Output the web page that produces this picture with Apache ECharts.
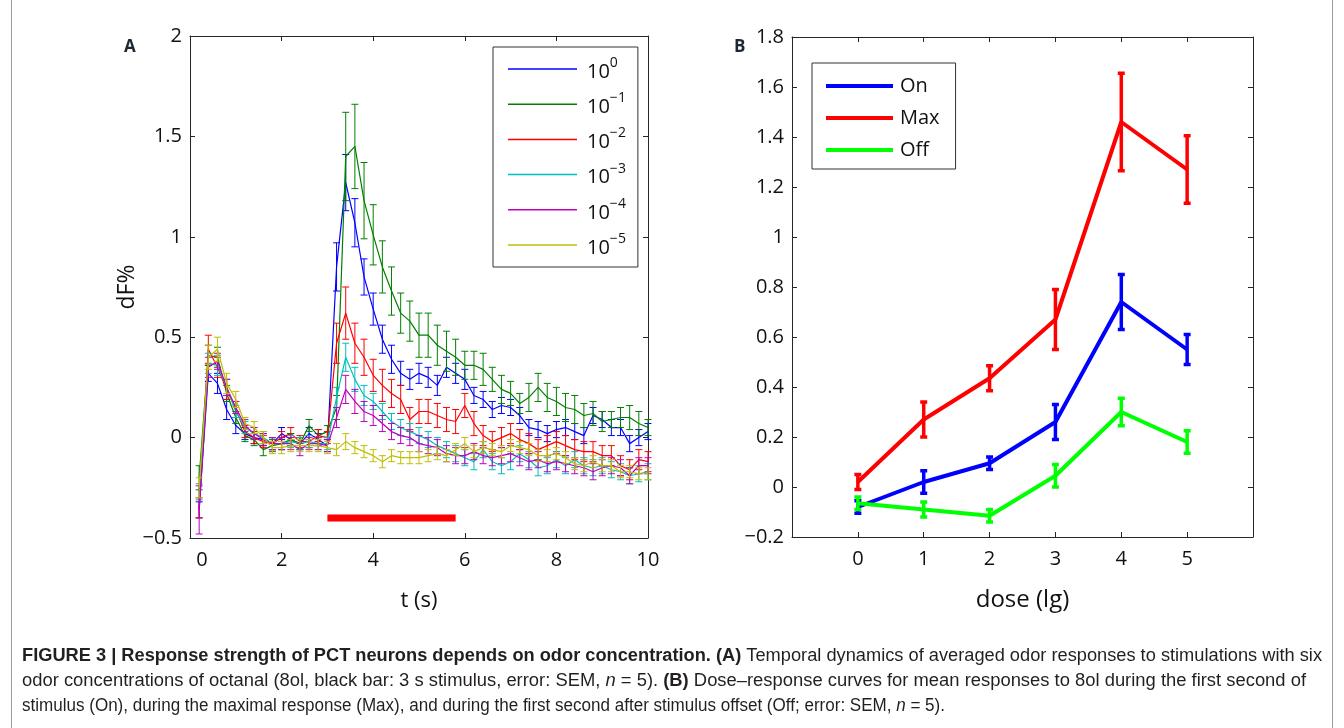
<!DOCTYPE html>
<html>
<head>
<meta charset="utf-8">
<script src="https://cdn.jsdelivr.net/npm/echarts@6/dist/echarts.min.js"></script>
<style>
html,body{margin:0;padding:0;background:#fff;}
#chart{width:1344px;height:728px;}
</style>
</head>
<body>
<div id="chart"></div>
<script>
// ---------- Panel A data ----------
const tA = [0.2,0.4,0.6,0.8,1.0,1.2,1.4,1.6,1.8,2.0,2.2,2.4,2.6,2.8,3.0,3.2,3.4,3.6,3.8,4.0,4.2,4.4,4.6,4.8,5.0,5.2,5.4,5.6,5.8,6.0,6.2,6.4,6.6,6.8,7.0,7.2,7.4,7.6,7.8,8.0,8.2,8.4,8.6,8.8,9.0,9.2,9.4,9.6,9.8,10.0];
const conc0 = [-0.36,0.32,0.27,0.14,0.06,0.02,0.00,-0.01,-0.03,0.02,-0.01,-0.03,0.02,-0.01,-0.04,0.85,1.27,1.07,0.80,0.64,0.49,0.39,0.32,0.29,0.32,0.30,0.26,0.35,0.32,0.29,0.21,0.19,0.14,0.16,0.15,0.11,0.05,0.04,0.02,0.04,0.05,0.03,0.01,0.11,0.09,0.05,0.05,-0.03,0.00,0.03];
const conc0Err = [0.04,0.04,0.05,0.05,0.04,0.03,0.03,0.03,0.03,0.03,0.03,0.03,0.03,0.03,0.03,0.12,0.14,0.12,0.09,0.08,0.07,0.07,0.06,0.05,0.05,0.05,0.05,0.05,0.05,0.05,0.04,0.04,0.04,0.04,0.04,0.04,0.04,0.04,0.04,0.04,0.04,0.04,0.04,0.04,0.04,0.04,0.04,0.04,0.04,0.04];
const conc1 = [-0.20,0.41,0.40,0.22,0.10,0.01,-0.01,-0.06,-0.04,-0.03,-0.01,-0.03,0.06,0.01,0.03,0.15,1.40,1.45,1.18,1.01,0.85,0.73,0.62,0.58,0.51,0.51,0.46,0.43,0.40,0.36,0.36,0.34,0.29,0.24,0.22,0.17,0.20,0.25,0.20,0.18,0.15,0.14,0.11,0.12,0.08,0.09,0.10,0.10,0.07,0.05];
const conc1Err = [0.06,0.05,0.05,0.04,0.03,0.03,0.03,0.03,0.03,0.03,0.03,0.03,0.03,0.03,0.03,0.06,0.22,0.21,0.19,0.15,0.13,0.12,0.10,0.10,0.11,0.11,0.10,0.10,0.09,0.07,0.07,0.08,0.06,0.07,0.06,0.05,0.07,0.07,0.07,0.07,0.07,0.07,0.06,0.06,0.05,0.04,0.05,0.06,0.06,0.04];
const conc2 = [-0.35,0.44,0.35,0.24,0.14,0.03,0.00,-0.02,-0.03,0.00,0.02,-0.02,-0.02,0.01,0.00,0.47,0.62,0.47,0.40,0.31,0.26,0.22,0.19,0.09,0.13,0.13,0.11,0.09,0.08,0.16,0.07,0.01,-0.02,0.00,0.02,-0.01,-0.03,-0.06,-0.04,-0.02,-0.04,-0.06,-0.07,-0.07,-0.09,-0.09,-0.14,-0.16,-0.11,-0.12];
const conc2Err = [0.05,0.07,0.05,0.05,0.04,0.03,0.03,0.03,0.03,0.03,0.03,0.03,0.03,0.03,0.03,0.10,0.13,0.10,0.09,0.08,0.08,0.07,0.07,0.06,0.06,0.06,0.06,0.06,0.06,0.06,0.06,0.05,0.05,0.05,0.05,0.05,0.05,0.05,0.05,0.05,0.05,0.05,0.05,0.05,0.05,0.05,0.05,0.05,0.05,0.05];
const conc3 = [-0.27,0.37,0.36,0.25,0.13,0.05,0.02,0.00,-0.03,-0.03,-0.02,-0.03,-0.02,-0.03,-0.03,0.20,0.40,0.29,0.21,0.18,0.13,0.08,0.05,0.03,0.01,-0.01,-0.04,-0.06,-0.08,-0.10,-0.12,-0.06,-0.12,-0.14,-0.12,-0.08,-0.11,-0.15,-0.14,-0.11,-0.14,-0.11,-0.14,-0.15,-0.14,-0.16,-0.17,-0.19,-0.18,-0.17];
const conc3Err = [0.04,0.05,0.05,0.04,0.03,0.03,0.03,0.03,0.03,0.03,0.03,0.03,0.03,0.03,0.03,0.05,0.07,0.06,0.05,0.04,0.04,0.04,0.04,0.04,0.04,0.04,0.04,0.04,0.04,0.04,0.04,0.04,0.04,0.04,0.04,0.04,0.04,0.04,0.04,0.04,0.04,0.04,0.04,0.04,0.04,0.04,0.04,0.04,0.04,0.04];
const conc4 = [-0.36,0.35,0.38,0.25,0.15,0.06,0.02,-0.01,-0.03,-0.03,-0.03,-0.06,-0.03,-0.03,-0.04,0.10,0.24,0.18,0.13,0.11,0.07,0.03,0.01,0.00,-0.03,-0.04,-0.05,-0.08,-0.09,-0.09,-0.07,-0.09,-0.10,-0.09,-0.08,-0.10,-0.12,-0.11,-0.13,-0.12,-0.13,-0.14,-0.15,-0.17,-0.15,-0.14,-0.15,-0.19,-0.14,-0.14];
const conc4Err = [0.12,0.05,0.04,0.04,0.03,0.03,0.03,0.03,0.03,0.03,0.03,0.03,0.03,0.03,0.03,0.05,0.07,0.06,0.05,0.05,0.04,0.04,0.04,0.04,0.04,0.04,0.04,0.04,0.04,0.04,0.04,0.04,0.04,0.04,0.04,0.04,0.04,0.04,0.04,0.04,0.04,0.04,0.04,0.04,0.04,0.04,0.04,0.04,0.04,0.04];
const conc5 = [-0.25,0.40,0.44,0.27,0.19,0.07,0.05,0.00,-0.05,-0.05,-0.04,-0.04,-0.04,-0.04,-0.05,-0.06,-0.02,-0.05,-0.07,-0.09,-0.12,-0.09,-0.10,-0.10,-0.10,-0.09,-0.08,-0.09,-0.06,-0.03,-0.07,-0.05,-0.06,-0.07,-0.04,-0.05,-0.06,-0.09,-0.09,-0.08,-0.10,-0.13,-0.14,-0.12,-0.14,-0.14,-0.17,-0.17,-0.18,-0.18];
const conc5Err = [0.05,0.06,0.06,0.05,0.04,0.03,0.03,0.03,0.03,0.03,0.03,0.03,0.03,0.03,0.03,0.03,0.04,0.03,0.03,0.03,0.03,0.03,0.03,0.03,0.03,0.03,0.03,0.03,0.03,0.03,0.03,0.03,0.03,0.03,0.03,0.03,0.03,0.03,0.03,0.03,0.03,0.03,0.03,0.03,0.03,0.03,0.03,0.03,0.03,0.03];
const concNames = ['10^0','10^-1','10^-2','10^-3','10^-4','10^-5'];
const concExps = ['0','−1','−2','−3','−4','−5'];
const concColors = ['#0000ff','#008000','#ff0000','#00bfbf','#bf00bf','#bfbf00'];
const stimT = [3.0, 5.8];
const stimLevel = -0.40;

// ---------- Panel B data ----------
const doses = [0,1,2,3,4,5];
const onVals = [-0.08,0.02,0.095,0.26,0.74,0.55];
const onErr = [0.025,0.045,0.025,0.07,0.11,0.06];
const maxVals = [0.02,0.27,0.435,0.67,1.46,1.27];
const maxErr = [0.03,0.07,0.05,0.12,0.195,0.135];
const offVals = [-0.065,-0.09,-0.115,0.045,0.30,0.18];
const offErr = [0.025,0.03,0.025,0.045,0.055,0.045];
const respNames = ['On','Max','Off'];
const respColors = ['#0000ff','#ff0000','#00ff00'];

const FONT = 'Open Sans';
const AX = '#262626';

function errRender(color, capHalf, lw) {
  return function (params, api) {
    const x = api.value(0), y = api.value(1), e = api.value(2);
    const a = api.coord([x, y + e]), b = api.coord([x, y - e]);
    const st = {stroke: color, lineWidth: lw};
    return {type: 'group', children: [
      {type: 'line', shape: {x1: a[0], y1: a[1], x2: b[0], y2: b[1]}, style: st},
      {type: 'line', shape: {x1: a[0] - capHalf, y1: a[1], x2: a[0] + capHalf, y2: a[1]}, style: st},
      {type: 'line', shape: {x1: b[0] - capHalf, y1: b[1], x2: b[0] + capHalf, y2: b[1]}, style: st}
    ]};
  };
}
const minus = v => String(v).replace('-', '−');

const seriesA = [];
const aVals = [conc0, conc1, conc2, conc3, conc4, conc5];
const aErrs = [conc0Err, conc1Err, conc2Err, conc3Err, conc4Err, conc5Err];
aVals.forEach((vals, i) => {
  seriesA.push({
    type: 'line', name: concNames[i], xAxisIndex: 0, yAxisIndex: 0,
    data: tA.map((t, k) => [t, vals[k]]), symbol: 'none',
    lineStyle: {width: 1.2, color: concColors[i]}, itemStyle: {color: concColors[i]},
    z: 3 + i, animation: false
  });
  seriesA.push({
    type: 'custom', name: 'errA' + i, xAxisIndex: 0, yAxisIndex: 0,
    data: tA.map((t, k) => [t, vals[k], aErrs[i][k]]),
    renderItem: errRender(concColors[i], 3.5, 1), z: 3 + i, animation: false
  });
});
seriesA.push({
  type: 'line', name: 'stim', xAxisIndex: 0, yAxisIndex: 0,
  data: stimT.map(t => [t, stimLevel]), symbol: 'none',
  lineStyle: {width: 7, color: '#ff0000', cap: 'butt'}, z: 2, animation: false
});

const seriesB = [];
const bVals = [onVals, maxVals, offVals];
const bErrs = [onErr, maxErr, offErr];
bVals.forEach((vals, i) => {
  seriesB.push({
    type: 'line', name: respNames[i], xAxisIndex: 2, yAxisIndex: 2,
    data: doses.map((d, k) => [d, vals[k]]), symbol: 'none',
    lineStyle: {width: 4, color: respColors[i]}, itemStyle: {color: respColors[i]},
    z: 3 + i, animation: false
  });
  seriesB.push({
    type: 'custom', name: 'errB' + i, xAxisIndex: 2, yAxisIndex: 2,
    data: doses.map((d, k) => [d, vals[k], bErrs[i][k]]),
    renderItem: errRender(respColors[i], 3.5, 3.5), z: 3 + i, animation: false
  });
});

function mainX(grid, min, max, interval, name, fmt, nameGap, nameSize) {
  return {
    type: 'value', gridIndex: grid, position: 'bottom', min, max, interval,
    axisLine: {onZero: false, lineStyle: {color: AX, width: 1}},
    axisTick: {inside: true, length: 5, lineStyle: {color: AX}},
    splitLine: {show: false},
    axisLabel: {margin: 12, fontSize: 20, fontFamily: FONT, color: '#111', formatter: fmt, rich: {z: {fontSize: 20, fontFamily: FONT, color: '#111', padding: [0, 0, 0, 24]}}},
    name, nameLocation: 'middle', nameGap,
    nameTextStyle: {fontSize: nameSize, fontFamily: FONT, color: '#111'}
  };
}
function sideX(grid, min, max, interval) {
  return {
    type: 'value', gridIndex: grid, position: 'top', min, max, interval,
    axisLine: {onZero: false, lineStyle: {color: AX, width: 1}},
    axisTick: {inside: true, length: 5, lineStyle: {color: AX}},
    splitLine: {show: false}, axisLabel: {show: false}
  };
}
function mainY(grid, min, max, interval, name, fmt) {
  return {
    type: 'value', gridIndex: grid, position: 'left', min, max, interval,
    axisLine: {onZero: false, lineStyle: {color: AX, width: 1}},
    axisTick: {inside: true, length: 5, lineStyle: {color: AX}},
    splitLine: {show: false},
    axisLabel: {margin: 8, fontSize: 20, fontFamily: FONT, color: '#111', formatter: fmt},
    name, nameLocation: 'middle', nameGap: 49, nameRotate: 90,
    nameTextStyle: {fontSize: 23, fontFamily: FONT, color: '#111'}
  };
}
function sideY(grid, min, max, interval) {
  return {
    type: 'value', gridIndex: grid, position: 'right', min, max, interval,
    axisLine: {onZero: false, lineStyle: {color: AX, width: 1}},
    axisTick: {inside: true, length: 5, lineStyle: {color: AX}},
    splitLine: {show: false}, axisLabel: {show: false}
  };
}

// ---------- caption (condensed look via horizontal scaling) ----------
const capFont = 'Liberation Sans';
const capSize = 17.5;
const capColor = '#231f20';
const capRich = {
  n: {fontFamily: capFont, fontSize: capSize, color: capColor},
  b: {fontFamily: capFont, fontSize: capSize, fontWeight: 'bold', color: capColor},
  i: {fontFamily: capFont, fontSize: capSize, fontStyle: 'italic', color: capColor}
};
// each line: list of [style, text]
const capParts = [
  [['b', 'FIGURE 3 | Response strength of PCT neurons depends on odor concentration. (A)'], ['n', ' Temporal dynamics of averaged odor responses to stimulations with six']],
  [['n', 'odor concentrations of octanal (8ol, black bar: 3 s stimulus, error: SEM, '], ['i', 'n'], ['n', ' = 5). '], ['b', '(B)'], ['n', ' Dose–response curves for mean responses to 8ol during the first second of']],
  [['n', 'stimulus (On), during the maximal response (Max), and during the first second after stimulus offset (Off; error: SEM, '], ['i', 'n'], ['n', ' = 5).']]
];
const capWidths = [1300, 1284, 923];
const capY = [656, 681, 706];
const mctx = document.createElement('canvas').getContext('2d');
const fontOf = s => (s === 'b' ? 'bold ' : s === 'i' ? 'italic ' : '') + capSize + 'px "' + capFont + '"';
const capGraphics = capParts.map((parts, k) => {
  let w = 0;
  parts.forEach(([s, t]) => { mctx.font = fontOf(s); w += mctx.measureText(t).width; });
  return {
    type: 'text', x: 22, y: capY[k], scaleX: capWidths[k] / w, scaleY: 1,
    style: {
      text: parts.map(([s, t]) => '{' + s + '|' + t + '}').join(''),
      rich: capRich, fill: capColor, fontFamily: capFont, fontSize: capSize, verticalAlign: 'middle'
    }
  };
});

const chart = echarts.init(document.getElementById('chart'), null, {renderer: 'canvas'});
chart.setOption({
  animation: false,
  backgroundColor: '#ffffff',
  grid: [
    {left: 190, top: 36, width: 458, height: 502},
    {left: 792, top: 37, width: 461, height: 500}
  ],
  xAxis: [
    mainX(0, 0, 10, 2, 't (s)', v => (v === 0 ? '{z|0}' : String(v)), 52, 22),
    sideX(0, 0, 10, 2),
    mainX(1, -1, 6, 1, 'dose (lg)', v => (v < 0 || v > 5 ? '' : String(v)), 51, 24),
    sideX(1, -1, 6, 1)
  ],
  yAxis: [
    mainY(0, -0.5, 2, 0.5, 'dF%', minus),
    sideY(0, -0.5, 2, 0.5),
    mainY(1, -0.2, 1.8, 0.2, '', minus),
    sideY(1, -0.2, 1.8, 0.2)
  ],
  legend: [
    {
      data: concNames, orient: 'vertical', left: 493, top: 47,
      backgroundColor: '#fff', borderColor: '#333', borderWidth: 1,
      padding: [9, 12, 9, 15], icon: 'rect', itemWidth: 69, itemHeight: 1.5,
      itemGap: 9.2, selectedMode: false,
      formatter: name => '{b|10}{s|' + concExps[concNames.indexOf(name)] + '}',
      textStyle: {
        fontFamily: FONT, fontSize: 20, color: '#111',
        rich: {
          b: {fontFamily: FONT, fontSize: 20, color: '#111', lineHeight: 26, verticalAlign: 'bottom', padding: [0, 0, 0, 5]},
          s: {fontFamily: FONT, fontSize: 14, color: '#111', lineHeight: 14, verticalAlign: 'top'}
        }
      }
    },
    {
      data: respNames, orient: 'vertical', left: 812, top: 63,
      backgroundColor: '#fff', borderColor: '#333', borderWidth: 1,
      padding: [11, 16, 7, 14], icon: 'rect', itemWidth: 67, itemHeight: 4,
      itemGap: 8, selectedMode: false,
      textStyle: {fontFamily: FONT, fontSize: 20, color: '#111', lineHeight: 24, padding: [0, 0, 0, 2]}
    }
  ],
  graphic: [
    {type: 'rect', shape: {x: 11.5, y: -5, width: 1321, height: 740}, style: {fill: 'none', stroke: '#9a9a9a', lineWidth: 1}, silent: true},
    {type: 'text', left: 124, top: 39, style: {text: 'A', font: 'bold 17px "Open Sans"', fill: '#1c2733'}},
    {type: 'text', left: 734, top: 39, style: {text: 'B', font: 'bold 17px "Open Sans"', fill: '#1c2733'}}
  ].concat(capGraphics),
  series: seriesA.concat(seriesB)
});
</script>
</body>
</html>
